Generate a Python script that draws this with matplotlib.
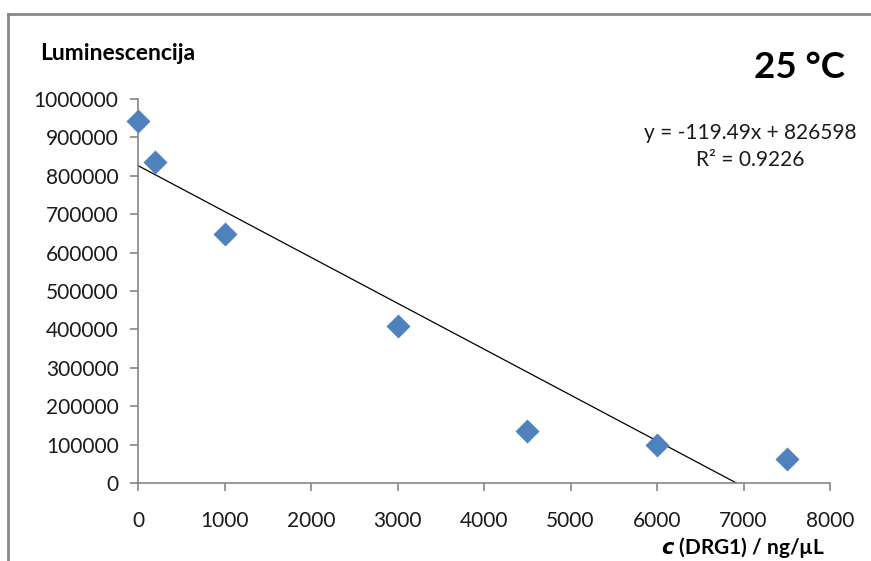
import numpy as np
import matplotlib.pyplot as plt
from matplotlib.lines import Line2D

# data
conc = [0, 200, 1000, 3000, 4500, 6000, 7500]
lum = [944000, 837000, 648000, 410000, 136000, 98000, 62000]

slope = -119.49
intercept = 826598
r2 = 0.9226

x_ticks = [0, 1000, 2000, 3000, 4000, 5000, 6000, 7000, 8000]
y_ticks = [0, 100000, 200000, 300000, 400000, 500000, 600000, 700000, 800000, 900000, 1000000]

plt.rcParams['font.family'] = ['Lato', 'DejaVu Sans']

fig = plt.figure(figsize=(8.71, 5.61), dpi=100)
ax = fig.add_axes([138 / 871, 1 - 483 / 561, (830 - 138) / 871, (483 - 99) / 561])

axis_col = '#868686'

ax.scatter(conc, lum, marker='D', s=150, color='#4F81BD', zorder=3, linewidths=0,
           clip_on=False)

# linear trendline
xl = np.array([0, max(conc)])
ax.plot(xl, slope * xl + intercept, color='black', lw=0.9, zorder=2)

ax.set_xlim(0, 8000)
ax.set_ylim(0, 1000000)
ax.set_xticks(x_ticks)
ax.set_yticks(y_ticks)
ax.set_xticklabels([str(v) for v in x_ticks])
ax.set_yticklabels([str(v) for v in y_ticks])

for s in ['top', 'right']:
    ax.spines[s].set_visible(False)
for s in ['left', 'bottom']:
    ax.spines[s].set_color(axis_col)
    ax.spines[s].set_linewidth(1.2)
ax.tick_params(axis='both', direction='out', length=6, width=1.2, color=axis_col,
               labelsize=15, labelcolor='#1a1a1a')
ax.tick_params(axis='x', pad=14)
ax.tick_params(axis='y', pad=8)

fig.text(40 / 871, 1 - 53 / 561, 'Luminescencija', fontsize=16.5, fontweight='bold',
         va='center', ha='left')
fig.text(845 / 871, 1 - 68 / 561, '25 °C', fontsize=26.5, fontweight='bold',
         va='center', ha='right')
fig.text(750 / 871, 1 - 133 / 561, f'y = {slope}x + {intercept}', fontsize=15,
         va='center', ha='center', color='#1a1a1a')
fig.text(750 / 871, 1 - 160 / 561, f'R² = {r2}', fontsize=15,
         va='center', ha='center', color='#1a1a1a')
fig.text(825 / 871, 1 - 547 / 561, r'$\boldsymbol{c}$ (DRG1) / ng/µL', fontsize=15,
         fontweight='bold', va='center', ha='right')

# chart frame (only top and left visible in the crop)
fig.add_artist(Line2D([8 / 871, 1], [1 - 14 / 561, 1 - 14 / 561], color='#888888', lw=2,
                      transform=fig.transFigure))
fig.add_artist(Line2D([8 / 871, 8 / 871], [0, 1 - 14 / 561], color='#888888', lw=2,
                      transform=fig.transFigure))

fig.savefig('out.png', dpi=100)
